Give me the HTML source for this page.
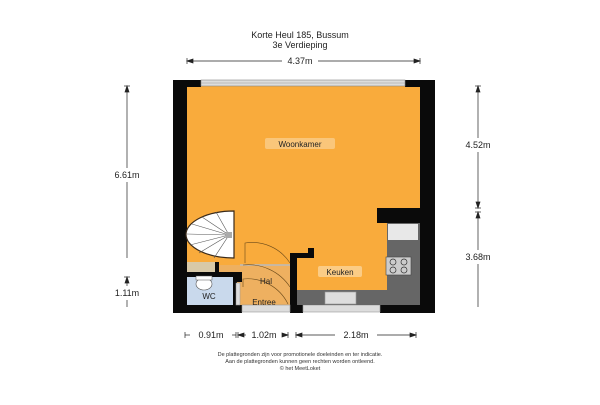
<!DOCTYPE html>
<html><head><meta charset="utf-8"><style>
body{margin:0;background:#fff;width:600px;height:400px;overflow:hidden;font-family:"Liberation Sans",sans-serif}
</style></head><body>
<svg width="600" height="400" viewBox="0 0 600 400" xmlns="http://www.w3.org/2000/svg" font-family="Liberation Sans, sans-serif">
<text x="300" y="38" font-size="9" text-anchor="middle" fill="#222">Korte Heul 185, Bussum</text>
<text x="300" y="48" font-size="9" text-anchor="middle" fill="#222">3e Verdieping</text>
<g stroke="#222" stroke-width="0.7" fill="#222">
<line x1="187" y1="61" x2="282" y2="61"/><line x1="318" y1="61" x2="420" y2="61"/>
<line x1="187" y1="58" x2="187" y2="64"/><line x1="420" y1="58" x2="420" y2="64"/>
<polygon points="187,61 193,59 193,63"/><polygon points="420,61 414,59 414,63"/>
<line x1="127" y1="86" x2="127" y2="168"/><line x1="127" y1="182" x2="127" y2="258"/>
<polygon points="127,86 125,92 129,92"/><line x1="124" y1="86" x2="130" y2="86"/>
<line x1="127" y1="277" x2="127" y2="286"/><line x1="127" y1="300" x2="127" y2="307"/>
<polygon points="127,277 125,283 129,283"/><line x1="124" y1="277" x2="130" y2="277"/>
<line x1="478" y1="86" x2="478" y2="138"/><line x1="478" y1="152" x2="478" y2="208"/>
<polygon points="478,86 476,92 480,92"/><line x1="475" y1="86" x2="481" y2="86"/>
<polygon points="478,208 476,202 480,202"/><line x1="475" y1="208" x2="481" y2="208"/>
<line x1="478" y1="212" x2="478" y2="250"/><line x1="478" y1="264" x2="478" y2="307"/>
<polygon points="478,212 476,218 480,218"/><line x1="475" y1="212" x2="481" y2="212"/>
<line x1="185" y1="335" x2="190" y2="335"/><line x1="232" y1="335" x2="236" y2="335"/>
<line x1="238" y1="335" x2="246" y2="335"/><line x1="283" y1="335" x2="288" y2="335"/>
<line x1="296" y1="335" x2="335" y2="335"/><line x1="377" y1="335" x2="416" y2="335"/>
<line x1="185" y1="332" x2="185" y2="338"/><line x1="236" y1="332" x2="236" y2="338"/>
<line x1="238" y1="332" x2="238" y2="338"/><line x1="288" y1="332" x2="288" y2="338"/>
<line x1="296" y1="332" x2="296" y2="338"/><line x1="416" y1="332" x2="416" y2="338"/>
<polygon points="296,335 302,333 302,337"/><polygon points="416,335 410,333 410,337"/>
<polygon points="238,335 244,333 244,337"/><polygon points="288,335 282,333 282,337"/>
</g>
<g font-size="9" fill="#222" text-anchor="middle">
<text x="300" y="64">4.37m</text>
<text x="127" y="178">6.61m</text>
<text x="127" y="296">1.11m</text>
<text x="478" y="148">4.52m</text>
<text x="478" y="260">3.68m</text>
<text x="211" y="338">0.91m</text>
<text x="264" y="338">1.02m</text>
<text x="356" y="338">2.18m</text>
</g>
<g font-size="5.5" fill="#333" text-anchor="middle">
<text x="300" y="356">De plattegronden zijn voor promotionele doeleinden en ter indicatie.</text>
<text x="300" y="363">Aan de plattegronden kunnen geen rechten worden ontleend.</text>
<text x="300" y="370">© het MeetLoket</text>
</g>
<rect x="186" y="86" width="234" height="220" fill="#f9ab3c"/>
<rect x="219" y="265" width="78" height="40" fill="#eeb060"/>
<rect x="187" y="277" width="47" height="29" fill="#c9d9ec"/>
<rect x="187" y="262" width="30" height="10" fill="#d8c9a8"/>
<g fill="#0a0a0a">
<rect x="173" y="80" width="14" height="233"/>
<rect x="173" y="80" width="28" height="7"/>
<rect x="405" y="80" width="30" height="7"/>
<rect x="420" y="80" width="15" height="233"/>
<rect x="173" y="305" width="69" height="8"/>
<rect x="290" y="305" width="13" height="8"/>
<rect x="380" y="305" width="55" height="8"/>
<rect x="377" y="208" width="43" height="15"/>
<rect x="290" y="253" width="7" height="55"/>
<rect x="290" y="253" width="23" height="5"/>
<rect x="308" y="248" width="6" height="10"/>
<rect x="185" y="272" width="57" height="5"/>
<rect x="215" y="262" width="4" height="12"/>
<rect x="233" y="272" width="4" height="35"/>
<rect x="237" y="272" width="5" height="10"/>
</g>
<rect x="201" y="80" width="204" height="6" fill="#ddd" stroke="#888" stroke-width="0.6"/>
<line x1="201" y1="83" x2="405" y2="83" stroke="#999" stroke-width="0.6"/>
<rect x="242" y="305" width="48" height="7" fill="#ddd" stroke="#999" stroke-width="0.6"/>
<rect x="303" y="305" width="77" height="7" fill="#ddd" stroke="#999" stroke-width="0.6"/>
<rect x="236" y="283" width="4" height="22" fill="#ddd" stroke="#999" stroke-width="0.5"/>
<line x1="240" y1="265" x2="290" y2="265" stroke="#bbb" stroke-width="1.5"/>
<rect x="387" y="223" width="33" height="82" fill="#666"/>
<rect x="388" y="224" width="30" height="16" fill="#e8e8e8"/>
<rect x="297" y="290" width="90" height="15" fill="#666"/>
<rect x="325" y="292" width="31" height="12" fill="#ddd" stroke="#999" stroke-width="0.6"/>
<rect x="386" y="257" width="25" height="18" fill="#ccc" stroke="#444" stroke-width="0.6"/>
<g fill="none" stroke="#333" stroke-width="0.7">
<circle cx="393" cy="262" r="3"/><circle cx="404" cy="262" r="3"/><circle cx="393" cy="270" r="3"/><circle cx="404" cy="270" r="3"/>
</g>
<path d="M234,211 A48,23.5 0 0 0 234,258 Z" fill="#fff" stroke="#3a2a1a" stroke-width="1.2"/>
<g stroke="#555" stroke-width="0.6">
<line x1="229" y1="235" x2="216" y2="212"/><line x1="229" y1="235" x2="202" y2="217"/><line x1="229" y1="235" x2="192" y2="224"/>
<line x1="229" y1="235" x2="187" y2="234"/><line x1="229" y1="235" x2="190" y2="245"/><line x1="229" y1="235" x2="199" y2="253"/><line x1="229" y1="235" x2="214" y2="258"/>
</g>
<rect x="226" y="232" width="6" height="6" fill="#aaa"/>
<g fill="none" stroke="#6b4a1a" stroke-width="0.6">
<path d="M245,263 L245,243 A45,45 0 0 1 290,263"/>
<path d="M243,287 L243,279 A45,45 0 0 1 288,304"/>
<path d="M243,265 A50,50 0 0 1 290,287"/>
</g>
<ellipse cx="204" cy="284" rx="8" ry="6" fill="#fff" stroke="#555" stroke-width="0.6"/>
<rect x="196" y="276" width="16" height="4" fill="#fff" stroke="#555" stroke-width="0.5"/>
<g font-size="8" fill="#222" text-anchor="middle">
<rect x="265" y="138" width="70" height="11" rx="2" fill="#fbe2b8" opacity="0.5"/>
<text x="300" y="147">Woonkamer</text>
<rect x="318" y="266" width="44" height="11" rx="2" fill="#fbe2b8" opacity="0.6"/>
<text x="340" y="275">Keuken</text>
<text x="266" y="284">Hal</text>
<text x="264" y="305">Entree</text>
<text x="209" y="299">WC</text>
</g>
</svg>
</body></html>
